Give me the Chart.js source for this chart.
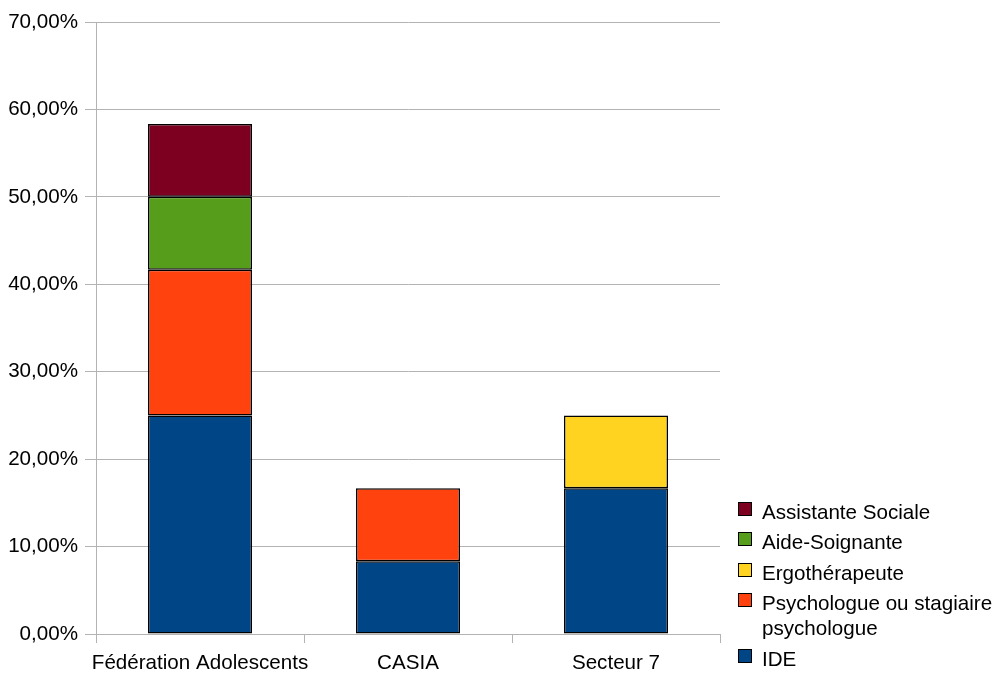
<!DOCTYPE html>
<html>
<head>
<meta charset="utf-8">
<script src="https://cdn.jsdelivr.net/npm/chart.js@4"></script>
<style>
  html, body { margin: 0; padding: 0; background: #fff; }
  #wrap { width: 993px; height: 673px; }
</style>
</head>
<body>
<div id="wrap"><canvas id="myChart" width="993" height="673"></canvas></div>
<script>
// categories (x axis)
const categories = ['Fédération Adolescents', 'CASIA', 'Secteur 7'];

// series values, in % (null = no bar)
const ide = [25, 8.33, 16.67];
const psychologue = [16.67, 8.33, null];
const ergotherapeute = [null, null, 8.33];
const aideSoignante = [8.33, null, null];
const assistanteSociale = [8.33, null, null];

// y axis ticks
const yMax = 70;
const yStep = 10;

const gridGray = '#b3b3b3';
const fontFam = '"Liberation Sans", Arial, sans-serif';

// legend drawn by hand so the long label can wrap on two lines
const sideLegend = {
    id: 'sideLegend',
    afterDraw(chart) {
        const c = chart.ctx;
        const rows = [
            { ds: 4, lines: ['Assistante Sociale'], y: 513 },
            { ds: 3, lines: ['Aide-Soignante'], y: 543 },
            { ds: 2, lines: ['Ergothérapeute'], y: 574 },
            { ds: 1, lines: ['Psychologue ou stagiaire', 'psychologue'], y: 604 },
            { ds: 0, lines: ['IDE'], y: 660 }
        ];
        c.save();
        c.font = '20.6px ' + fontFam;
        c.textBaseline = 'middle';
        rows.forEach(r => {
            const d = chart.data.datasets[r.ds];
            c.fillStyle = d.backgroundColor;
            c.fillRect(738, r.y - 11, 14, 14);
            c.strokeStyle = '#000';
            c.lineWidth = 1;
            c.strokeRect(738.5, r.y - 10.5, 13, 13);
            c.fillStyle = '#000';
            r.lines.forEach((t, i) => c.fillText(t, 762, r.y + i * 25));
        });
        c.restore();
    }
};

const mkSet = (label, data, color) => ({
    label: label,
    data: data,
    backgroundColor: color,
    borderColor: '#000',
    borderWidth: 1.5,
    borderSkipped: false,
    categoryPercentage: 1,
    barPercentage: 0.5
});

const ctx = document.getElementById('myChart').getContext('2d');

const myChart = new Chart(ctx, {
    type: 'bar',
    data: {
        labels: categories,
        datasets: [
            mkSet('IDE', ide, '#004586'),
            mkSet('Psychologue ou stagiaire psychologue', psychologue, '#ff420e'),
            mkSet('Ergothérapeute', ergotherapeute, '#ffd320'),
            mkSet('Aide-Soignante', aideSoignante, '#579d1c'),
            mkSet('Assistante Sociale', assistanteSociale, '#7e0021')
        ]
    },
    options: {
        responsive: false,
        animation: false,
        layout: { padding: { top: 22, right: 273, left: 0, bottom: 0 } },
        plugins: {
            legend: { display: false },
            tooltip: { enabled: false }
        },
        scales: {
            x: {
                stacked: true,
                grid: {
                    offset: true,
                    color: c => (c.index === 0 || c.index === 3) ? gridGray : 'rgba(0,0,0,0)',
                    tickColor: gridGray,
                    tickLength: 9
                },
                border: { display: true, color: gridGray },
                ticks: {
                    color: '#000',
                    font: { family: fontFam, size: 20.6 },
                    padding: 8,
                    autoSkip: false,
                    maxRotation: 0
                },
                afterFit: s => { s.height = 39; }
            },
            y: {
                stacked: true,
                min: 0,
                max: yMax,
                grid: { color: gridGray, tickColor: gridGray, tickLength: 11 },
                border: { display: true, color: gridGray },
                ticks: {
                    stepSize: yStep,
                    color: '#000',
                    font: { family: fontFam, size: 20.6 },
                    padding: 7,
                    callback: v => v.toFixed(2).replace('.', ',') + '%'
                },
                afterFit: s => { s.width = 96; }
            }
        }
    },
    plugins: [sideLegend]
});
</script>
</body>
</html>
